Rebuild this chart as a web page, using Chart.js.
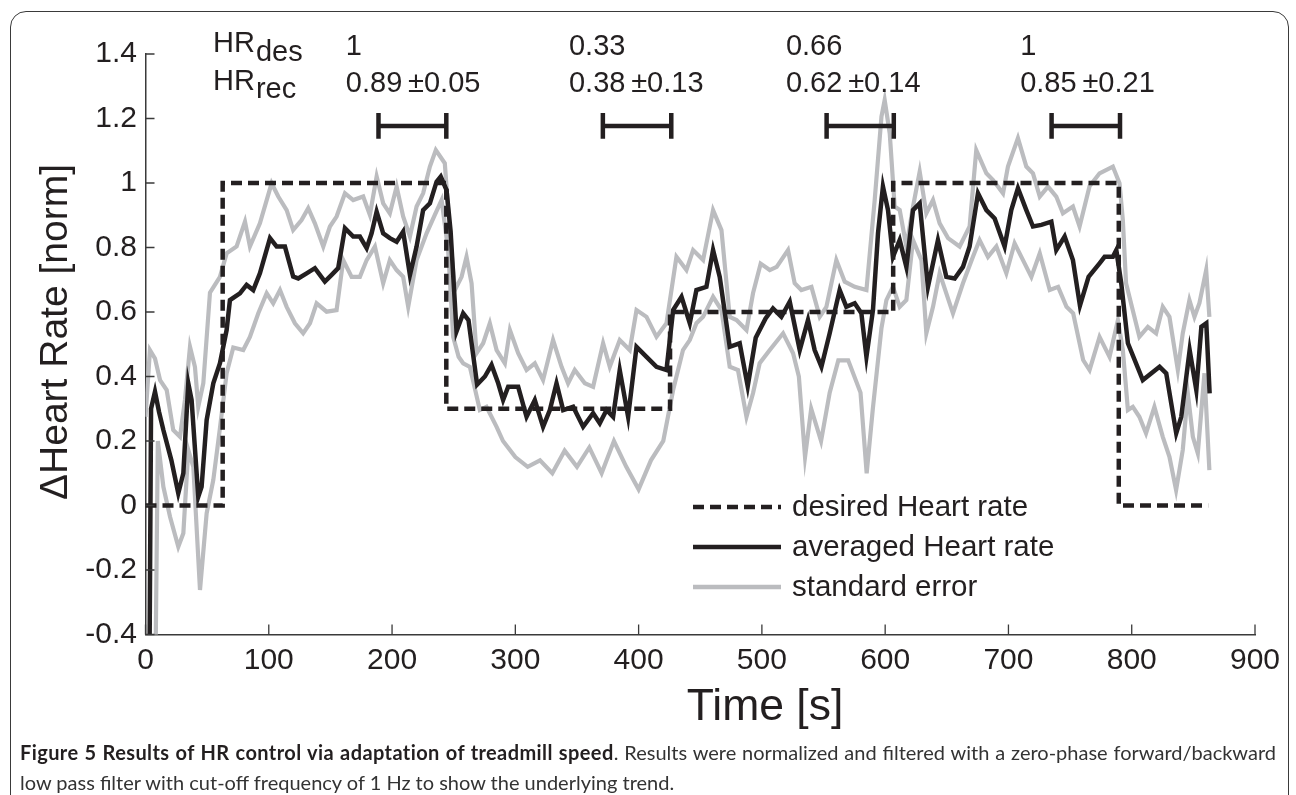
<!DOCTYPE html>
<html><head><meta charset="utf-8">
<script src="https://cdn.jsdelivr.net/npm/chart.js@4.4.1/dist/chart.umd.min.js"></script>
<style>
html,body{margin:0;padding:0;background:#fff;}
#wrap{position:relative;width:1296px;height:795px;overflow:hidden;}
#c{position:absolute;left:0;top:0;}
#frame{position:absolute;left:10px;top:11px;width:1279px;height:830px;border:1.5px solid #3a3a3a;border-radius:16px;box-sizing:border-box;}
#cap{position:absolute;left:20px;top:737px;width:1256px;font-family:Lato,"Open Sans",sans-serif;font-size:20px;line-height:30px;color:#333;}
#cap .l1{text-align:justify;text-align-last:justify;}
#cap b{color:#231f20;letter-spacing:0.4px;}
</style></head>
<body><div id="wrap"><canvas id="c" width="1296" height="795"></canvas><div id="frame"></div>
<div id="cap"><div class="l1"><b>Figure 5 Results of HR control via adaptation of treadmill speed</b>. Results were normalized and filtered with a zero-phase forward/backward</div><div>low pass filter with cut-off frequency of 1 Hz to show the underlying trend.</div></div>
</div>
<script>
// ---- data ----
const xTicks = [0,100,200,300,400,500,600,700,800,900];
const xTickLabels = ['0','100','200','300','400','500','600','700','800','900'];
const yTicks = [-0.4,-0.2,0,0.2,0.4,0.6,0.8,1,1.2,1.4];
const yTickLabels = ['-0.4','-0.2','0','0.2','0.4','0.6','0.8','1','1.2','1.4'];
const xTitle = 'Time [s]';
const yTitle = '\u0394Heart Rate [norm]';

const desiredT = [0,62.6,62.6,244,244,425.5,425.5,606.5,606.5,789.5,789.5,862];
const desiredV = [0,0,1,1,0.3,0.3,0.6,0.6,1,1,0,0];

const meanT = [0,4.5,7.7,11,14.5,21,26.6,30.7,34.7,37.4,42.8,45.5,49.6,55,60.4,65.8,68.5,76.6,82,87.4,92.8,101,106.4,113.1,119.8,123.9,130.7,137.4,145.5,151,156.3,161.8,168.5,173.9,179.4,183.4,187.5,192.8,198.2,203.7,209,214.5,219.9,225.2,230.7,236.1,239.5,244.2,247.5,252.3,257.7,262,269,275.3,280.7,286.1,290.1,294.2,302.3,309.1,315.8,322.5,328,333.4,338.8,346.9,355,363.1,368.5,374,379.3,384.7,391.5,398.3,406.4,414.5,422.6,428,434.8,441.5,446.9,455,460.4,465.8,473.9,482,488.5,495,503,509,515.8,522.6,530.7,537.4,542.8,548.3,555,563.1,568.5,575.3,580.7,584.8,590.1,594.2,598.2,602.3,606.3,611.8,617.2,622.6,628,634.7,642.8,649.6,656.4,663.1,668.5,675.3,682.1,688.8,696.9,702.3,707.7,714.5,719.9,726.7,734.8,738.8,745.6,752.3,758,765,773.9,778,784.7,787.5,791.5,796.9,809,822.6,828,836.1,840.2,847,852.4,856.5,860.5,863.2];
const meanV = [-2.5,0.3,0.353,0.29,0.234,0.14,0.038,0.1,0.379,0.327,0.027,0.058,0.265,0.379,0.441,0.544,0.637,0.658,0.684,0.668,0.72,0.829,0.803,0.803,0.71,0.704,0.72,0.736,0.694,0.715,0.736,0.86,0.834,0.834,0.798,0.844,0.911,0.844,0.829,0.818,0.849,0.715,0.803,0.916,0.937,1.004,1.02,0.978,0.85,0.54,0.596,0.575,0.375,0.4,0.436,0.379,0.327,0.368,0.368,0.275,0.327,0.244,0.296,0.379,0.296,0.306,0.244,0.286,0.255,0.296,0.275,0.42,0.275,0.492,0.461,0.43,0.42,0.606,0.647,0.565,0.668,0.678,0.792,0.709,0.492,0.503,0.37,0.52,0.58,0.611,0.585,0.632,0.482,0.575,0.482,0.43,0.534,0.668,0.616,0.627,0.596,0.461,0.606,0.844,0.989,0.916,0.771,0.823,0.74,0.916,0.937,0.678,0.823,0.709,0.704,0.74,0.803,0.968,0.916,0.89,0.803,0.916,0.984,0.916,0.865,0.87,0.88,0.792,0.834,0.761,0.62,0.709,0.751,0.771,0.771,0.792,0.689,0.503,0.389,0.43,0.41,0.224,0.275,0.482,0.358,0.554,0.565,0.348];

const upperT = [0,3.6,7.7,11.8,17.2,22.5,28,32,36.1,40.1,42.8,46.9,52.3,60.4,65.8,73.9,80.7,84.7,92.8,102.3,107.7,114.5,119.8,126.6,132,137.4,144.2,149.6,155,161.8,168.5,176.6,182,187.5,192.8,198.2,203.7,209,214.5,219.9,225.2,230.7,235.5,242.8,246.9,251,256.4,260.4,264.5,268.5,273.9,279.3,284.8,291.5,295.6,302.3,309.1,315.8,322.5,330.6,337.5,342.8,348.2,356.4,363.1,371.2,376.6,384.7,392.8,398.3,406.4,414.5,422.6,430.7,438.8,444.2,452.3,460.4,467.2,473.9,479.4,487.5,492.8,499,506.4,512,521.2,526.6,532,540.2,546.9,552.3,560.4,567.2,575.3,584.8,591.5,597,599.6,603.7,607.7,611.8,617.2,622.6,628,633.4,638.8,644.2,651,660.4,668.5,673.9,682.1,687.5,695.6,699.6,707.7,714.5,719.9,725.4,732.1,738.8,744.2,752.3,757.7,765.8,773.9,784.7,790.1,792.8,795.4,800.8,806.2,813.1,819.8,825.2,830.6,837.4,841.4,846.8,850.9,854.9,860.4,863];
const upperV = [0.275,0.482,0.456,0.389,0.358,0.234,0.213,0.327,0.492,0.43,0.306,0.379,0.66,0.709,0.782,0.803,0.88,0.803,0.875,0.999,0.958,0.916,0.854,0.885,0.922,0.875,0.803,0.865,0.896,0.968,0.947,0.958,0.901,1.02,0.937,0.906,0.989,0.896,0.834,0.927,0.968,1.051,1.102,1.061,0.844,0.668,0.709,0.771,0.689,0.472,0.503,0.565,0.482,0.441,0.544,0.472,0.42,0.441,0.389,0.513,0.43,0.379,0.42,0.379,0.368,0.503,0.43,0.513,0.482,0.606,0.585,0.523,0.565,0.771,0.73,0.792,0.761,0.916,0.854,0.585,0.575,0.544,0.658,0.75,0.73,0.74,0.792,0.689,0.668,0.678,0.585,0.616,0.761,0.694,0.678,0.668,0.947,1.206,1.257,1.154,0.927,0.916,0.803,0.927,1.035,0.906,0.947,0.875,0.829,0.803,0.865,1.102,1.03,1.009,0.968,1.051,1.139,1.051,1.03,0.958,0.989,0.958,0.906,0.927,0.865,0.99,1.03,1.051,0.999,0.885,0.689,0.606,0.523,0.554,0.534,0.616,0.585,0.42,0.534,0.637,0.585,0.627,0.73,0.585];

const lowerT = [0,10,14.5,19.9,26.6,30.7,34.7,38.8,44.2,49.6,55,60.4,65.8,71.2,79.3,84.7,91.5,98.3,103.6,109.1,114.5,121.2,127.9,133.4,138.8,146.9,155,160.4,167.2,173.9,179.4,186.1,192.8,198.2,203.7,209,213.1,219.9,228,234.7,240.2,245.5,249.6,254,257.7,263.1,271.2,276.6,284.8,290,300,310,320,330,340,350,360,370,380,390,400,410,420,428,436,441.5,446.9,452.3,460.4,467.2,473.9,480.6,487.5,492.8,498.2,506.4,517.2,525.3,530,535,540,548,555,562,570,580,585,590,597,601,606.3,611.8,617.2,622.6,629.4,633.4,638.8,644.2,649.6,655,663.1,671.2,676.6,683.4,690.2,698.3,705,711.8,718.6,725.4,733.5,740.3,747.1,752.5,760.6,765.8,773.9,782,788.8,792.8,796.9,800.9,806.2,811.6,818.4,825.2,830.6,836,841.4,845.5,849.6,853.6,859,863];
const lowerV = [-3.5,0.2,0.058,-0.035,-0.128,-0.086,0.172,0.12,-0.262,-0.024,0.079,0.24,0.41,0.49,0.482,0.523,0.596,0.658,0.627,0.668,0.616,0.565,0.534,0.565,0.627,0.601,0.606,0.761,0.709,0.709,0.761,0.803,0.689,0.761,0.73,0.709,0.616,0.761,0.844,0.901,0.947,0.792,0.523,0.461,0.441,0.43,0.296,0.306,0.244,0.2,0.15,0.12,0.14,0.1,0.17,0.12,0.18,0.1,0.2,0.12,0.05,0.14,0.2,0.358,0.482,0.513,0.565,0.585,0.647,0.606,0.43,0.42,0.275,0.348,0.441,0.482,0.534,0.472,0.4,0.15,0.3,0.2,0.35,0.45,0.45,0.35,0.1,0.3,0.55,0.637,0.678,0.616,0.637,0.823,0.761,0.534,0.616,0.72,0.658,0.596,0.689,0.771,0.823,0.771,0.803,0.72,0.813,0.761,0.709,0.782,0.668,0.678,0.616,0.596,0.451,0.42,0.523,0.461,0.575,0.482,0.296,0.306,0.275,0.224,0.306,0.213,0.151,0.048,0.172,0.348,0.213,0.162,0.41,0.11];

const intervalStart = [189,371,552.5,735];
const intervalEnd = [244,426.5,607,790.5];
const hrDesiredText = ['1','0.33','0.66','1'];
const hrRecordedText = ['0.89\u2009±0.05','0.38\u2009±0.13','0.62\u2009±0.14','0.85\u2009±0.21'];
const seriesLabels = ['desired Heart rate','averaged Heart rate','standard error'];

// ---- styling constants ----
const INK = '#231f20', GRAY = '#bbbcbf', AXIS = '#3a3a3a';
const FONT = '"Liberation Sans", Arial, sans-serif';
const BAR_Y = 1.177, BAR_H = 0.04;
const LABEL_T = [162.5, 343.5, 519.5, 709.5];

const pts = (T,V) => T.map((t,i)=>({x:t,y:V[i]}));
function barPoints(){
  const out = [];
  intervalStart.forEach((s,i)=>{
    const e = intervalEnd[i];
    out.push({x:s,y:BAR_Y-BAR_H},{x:s,y:BAR_Y+BAR_H},{x:s,y:null},{x:s,y:BAR_Y},{x:e,y:BAR_Y},{x:e,y:null},{x:e,y:BAR_Y-BAR_H},{x:e,y:BAR_Y+BAR_H},{x:e,y:null});
  });
  return out;
}

const decor = {
  id:'decor',
  afterDraw(chart){
    const {ctx, chartArea:a, scales:{x,y}} = chart;
    ctx.save();
    // inward tick marks
    ctx.strokeStyle = AXIS; ctx.lineWidth = 1.3;
    ctx.beginPath();
    yTicks.forEach(v=>{const py=y.getPixelForValue(v); ctx.moveTo(a.left,py); ctx.lineTo(a.left+9,py);});
    xTicks.forEach(v=>{const px=x.getPixelForValue(v); ctx.moveTo(px,a.bottom); ctx.lineTo(px,a.bottom-10);});
    ctx.stroke();
    // axis titles
    ctx.fillStyle = INK;
    ctx.font = '44.5px ' + FONT; ctx.textAlign = 'center'; ctx.textBaseline = 'alphabetic';
    ctx.fillText(xTitle, 765, 720);
    ctx.save();
    ctx.translate(67, 332); ctx.rotate(-Math.PI/2);
    ctx.font = '39px ' + FONT;
    ctx.fillText(yTitle, 0, 0);
    ctx.restore();
    // HR annotations
    ctx.textBaseline = 'alphabetic'; ctx.textAlign = 'left';
    ctx.font = '29px ' + FONT;
    const hx = 213, hw = ctx.measureText('HR').width;
    ctx.fillText('HR', hx, 52); ctx.fillText('des', hx+hw+1, 61);
    ctx.fillText('HR', hx, 90); ctx.fillText('rec', hx+hw+1, 98);
    LABEL_T.forEach((t,i)=>{
      const px = x.getPixelForValue(t);
      ctx.fillText(hrDesiredText[i], px, 55);
      ctx.fillText(hrRecordedText[i], px, 92);
    });
    // legend
    const rows = [507,547,587], lx0 = 693, lx1 = 781, tx = 792;
    const styles = [
      {c:INK, w:4.5, d:[11,6]},
      {c:INK, w:4.5, d:[]},
      {c:GRAY, w:4.5, d:[]}
    ];
    ctx.font = '29.5px ' + FONT; ctx.textBaseline = 'middle';
    rows.forEach((ry,i)=>{
      ctx.strokeStyle = styles[i].c; ctx.lineWidth = styles[i].w; ctx.setLineDash(styles[i].d); ctx.lineCap='butt';
      ctx.beginPath(); ctx.moveTo(lx0,ry); ctx.lineTo(lx1,ry); ctx.stroke();
      ctx.setLineDash([]);
      ctx.fillStyle = INK; ctx.fillText(seriesLabels[i], tx, ry+1);
    });
    ctx.restore();
  }
};

new Chart(document.getElementById('c'), {
  type:'line',
  data:{datasets:[
    {label:'bars', data:barPoints(), borderColor:INK, borderWidth:4.5, spanGaps:false},
    {label:seriesLabels[1], data:pts(meanT,meanV), borderColor:INK, borderWidth:4.5},
    {label:seriesLabels[0], data:pts(desiredT,desiredV), borderColor:INK, borderWidth:4.5, borderDash:[11,6]},
    {label:seriesLabels[2]+' upper', data:pts(upperT,upperV), borderColor:GRAY, borderWidth:4.2},
    {label:seriesLabels[2]+' lower', data:pts(lowerT,lowerV), borderColor:GRAY, borderWidth:4.2}
  ]},
  options:{
    responsive:false, animation:false, devicePixelRatio:1,
    elements:{point:{radius:0,hoverRadius:0}, line:{tension:0, fill:false, borderJoinStyle:'miter'}},
    layout:{padding:{left:0,right:41,top:54,bottom:50.5}},
    plugins:{legend:{display:false}, tooltip:{enabled:false}},
    events:[],
    scales:{
      x:{type:'linear', min:0, max:900,
        afterBuildTicks:s=>{s.ticks = xTicks.map(v=>({value:v}));},
        afterFit:s=>{s.height = 110;},
        grid:{display:true, drawOnChartArea:false, drawTicks:false},
        border:{display:true, color:AXIS, width:1.5},
        ticks:{padding:8.5, autoSkip:false, maxRotation:0, color:INK, font:{family:FONT, size:30}, callback:(v,i)=>xTickLabels[i]},
        title:{display:false}
      },
      y:{type:'linear', min:-0.4, max:1.4,
        afterBuildTicks:s=>{s.ticks = yTicks.map(v=>({value:v}));},
        afterFit:s=>{s.width = 145.5;},
        grid:{display:true, drawOnChartArea:false, drawTicks:false},
        border:{display:true, color:AXIS, width:1.5},
        ticks:{padding:8.5, autoSkip:false, color:INK, font:{family:FONT, size:30}, callback:(v,i)=>yTickLabels[i]},
        title:{display:false}
      }
    }
  },
  plugins:[decor]
});
</script>
</body></html>
